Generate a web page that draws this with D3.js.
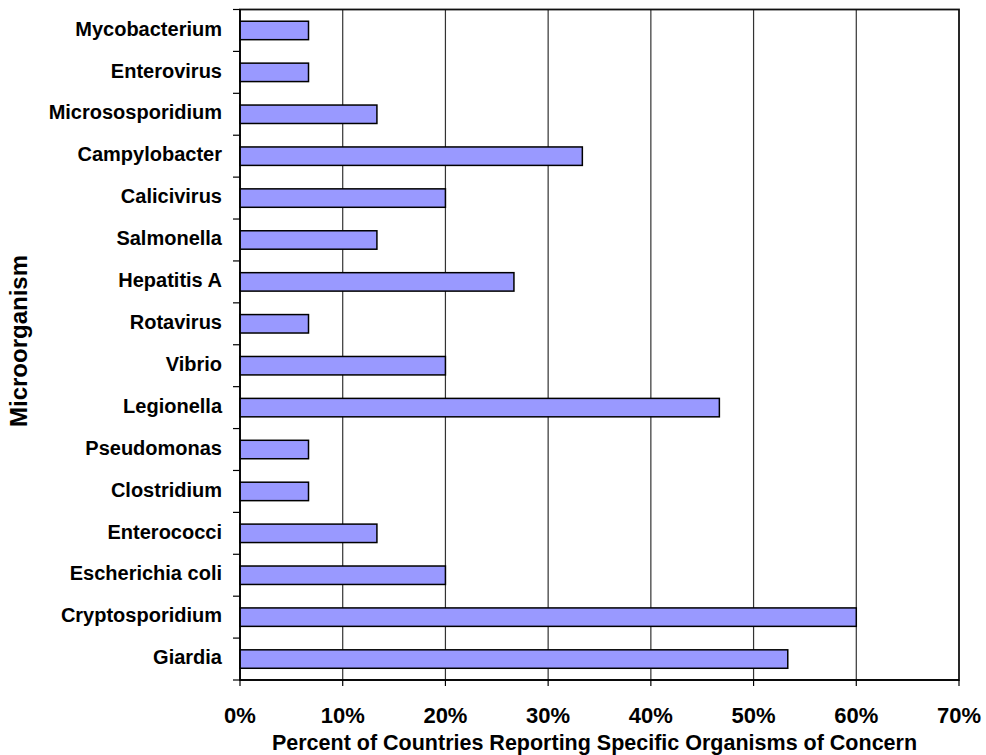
<!DOCTYPE html>
<html>
<head>
<meta charset="utf-8">
<script src="https://cdn.jsdelivr.net/npm/d3@7"></script>
<style>
  html, body { margin: 0; padding: 0; background: #fff; }
  svg { display: block; }
  text { font-family: "Liberation Sans", Arial, sans-serif; font-weight: bold; fill: #000; }
</style>
</head>
<body>
<svg id="chart" width="986" height="755"></svg>
<script>
const categories = ["Mycobacterium","Enterovirus","Micrososporidium","Campylobacter","Calicivirus","Salmonella","Hepatitis A","Rotavirus","Vibrio","Legionella","Pseudomonas","Clostridium","Enterococci","Escherichia coli","Cryptosporidium","Giardia"];
const values = [6.67, 6.67, 13.33, 33.33, 20, 13.33, 26.67, 6.67, 20, 46.67, 6.67, 6.67, 13.33, 20, 60, 53.33];
const xTicks = [0, 10, 20, 30, 40, 50, 60, 70];
const xTitle = "Percent of Countries Reporting Specific Organisms of Concern";
const yTitle = "Microorganism";

const svg = d3.select("#chart");
const pLeft = 240, pRight = 959, pTop = 9.5, pBottom = 680;

const x = d3.scaleLinear().domain([0, 70]).range([pLeft, pRight]);
const y = d3.scaleBand().domain(categories).range([pTop, pBottom]).paddingInner(0.56).paddingOuter(0.28);

// gridlines
svg.append("g").selectAll("line").data(xTicks.slice(1, -1)).join("line")
  .attr("x1", d => x(d)).attr("x2", d => x(d))
  .attr("y1", pTop).attr("y2", pBottom)
  .attr("stroke", "#333").attr("stroke-width", 1.2);

// plot border
svg.append("rect").attr("x", pLeft).attr("y", pTop).attr("width", pRight - pLeft).attr("height", pBottom - pTop)
  .attr("fill", "none").attr("stroke", "#111").attr("stroke-width", 1.8);

// bars
svg.append("g").selectAll("rect").data(categories).join("rect")
  .attr("x", x(0))
  .attr("y", d => y(d))
  .attr("width", (d, i) => x(values[i]) - x(0))
  .attr("height", y.bandwidth())
  .attr("fill", "#9999FF")
  .attr("stroke", "#000").attr("stroke-width", 1.5);

// y axis
const step = y.step();
svg.append("line").attr("x1", pLeft).attr("x2", pLeft).attr("y1", pTop).attr("y2", pBottom)
  .attr("stroke", "#000").attr("stroke-width", 1.5);
svg.append("g").selectAll("line").data(d3.range(categories.length + 1)).join("line")
  .attr("x1", pLeft - 7).attr("x2", pLeft)
  .attr("y1", k => pTop + k * step).attr("y2", k => pTop + k * step)
  .attr("stroke", "#000").attr("stroke-width", 1.2);
svg.append("g").selectAll("text").data(categories).join("text")
  .attr("x", 222)
  .attr("y", d => y(d) + y.bandwidth() / 2)
  .attr("dy", "0.26em")
  .attr("text-anchor", "end")
  .style("font-size", "20px")
  .text(d => d);

// x axis
svg.append("line").attr("x1", pLeft).attr("x2", pRight).attr("y1", pBottom).attr("y2", pBottom)
  .attr("stroke", "#000").attr("stroke-width", 1.5);
svg.append("g").selectAll("line").data(xTicks).join("line")
  .attr("x1", d => x(d)).attr("x2", d => x(d))
  .attr("y1", pBottom).attr("y2", pBottom + 6)
  .attr("stroke", "#000").attr("stroke-width", 1.2);
svg.append("g").selectAll("text").data(xTicks).join("text")
  .attr("x", d => x(d))
  .attr("y", 722.5)
  .attr("text-anchor", "middle")
  .style("font-size", "22px")
  .text(d => d + "%");

// titles
svg.append("text").attr("x", 594.5).attr("y", 749.5).attr("text-anchor", "middle")
  .style("font-size", "21.5px").text(xTitle);
svg.append("text").attr("transform", "translate(27,341) rotate(-90)").attr("text-anchor", "middle")
  .style("font-size", "24px").text(yTitle);
</script>
</body>
</html>
